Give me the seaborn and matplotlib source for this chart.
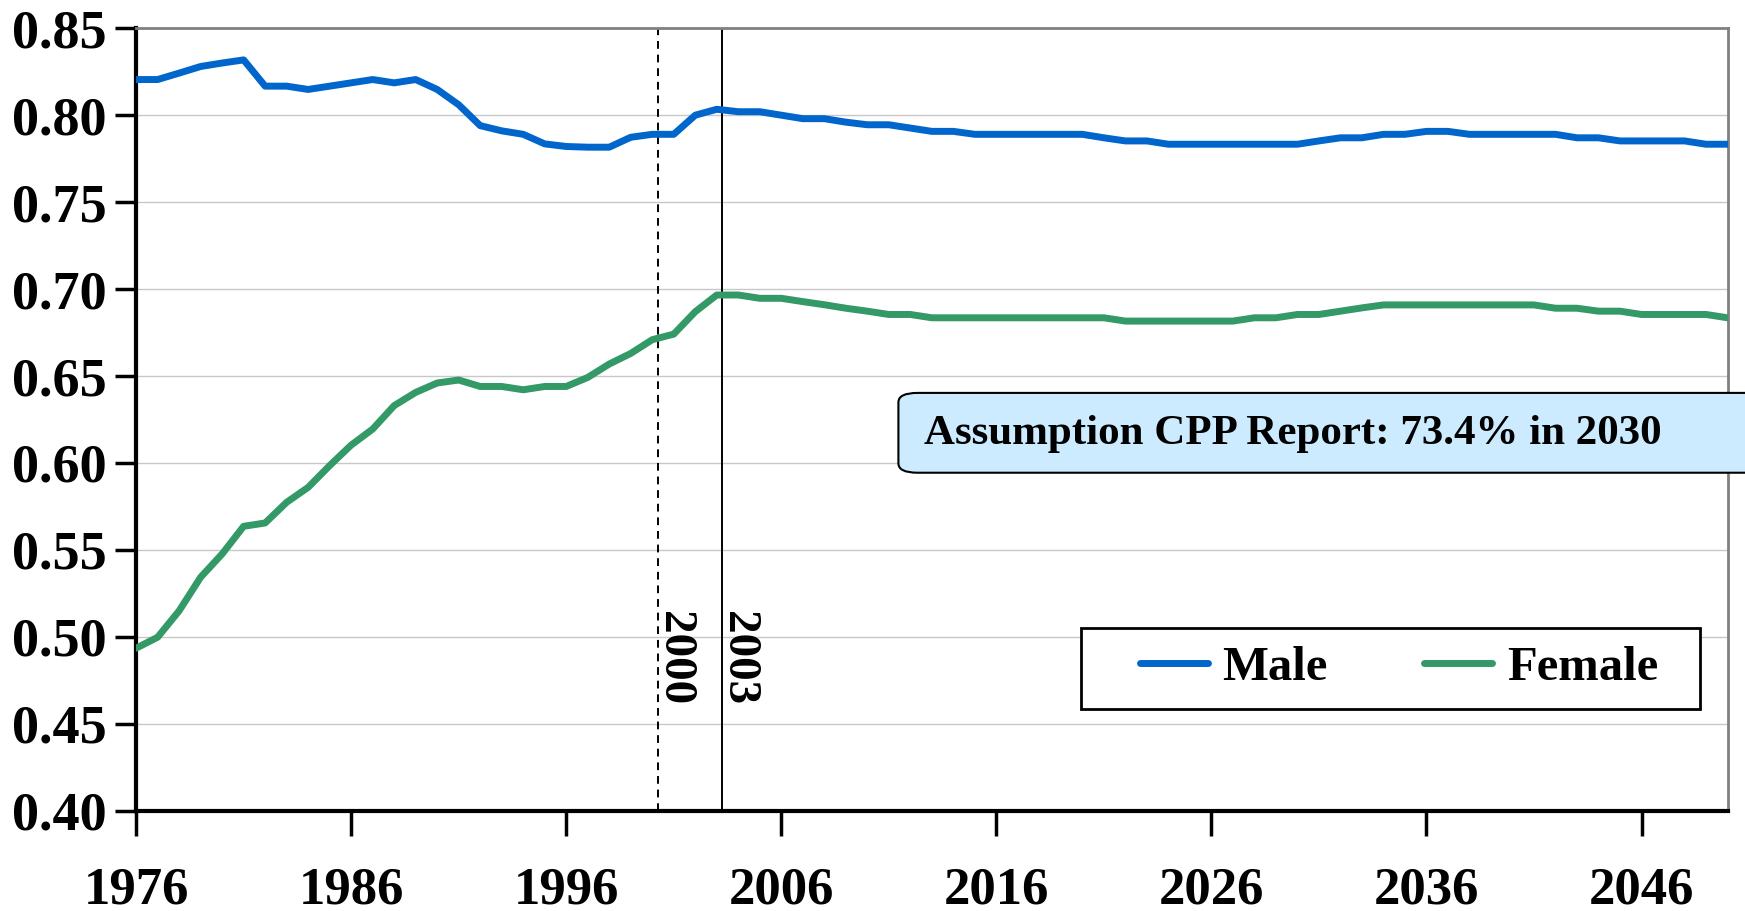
"""
Participation rate projection by sex, 1976-2050.
"""

import numpy as np
import pandas as pd
import matplotlib
matplotlib.use("Agg")
import matplotlib.pyplot as plt
from matplotlib.patches import FancyBboxPatch, Rectangle
from matplotlib.lines import Line2D
import seaborn as sns

years = list(range(1976, 2051))

male = [
    0.8205, 0.8205, 0.8242, 0.8280, 0.8300, 0.8318, 0.8167, 0.8167, 0.8148, 0.8167,  # 1976-85
    0.8186, 0.8205, 0.8186, 0.8205, 0.8148, 0.8060, 0.7940, 0.7910, 0.7890, 0.7835,  # 1986-95
    0.7820, 0.7816, 0.7816, 0.7873, 0.7890, 0.7890, 0.8000, 0.8034, 0.8020, 0.8020,  # 1996-2005
    0.8000, 0.7980, 0.7980, 0.7960, 0.7945, 0.7945, 0.7926, 0.7907, 0.7907, 0.7890,  # 2006-15
    0.7890, 0.7890, 0.7890, 0.7890, 0.7890, 0.7870, 0.7852, 0.7852, 0.7833, 0.7833,  # 2016-25
    0.7833, 0.7833, 0.7833, 0.7833, 0.7833, 0.7852, 0.7870, 0.7870, 0.7890, 0.7890,  # 2026-35
    0.7907, 0.7907, 0.7890, 0.7890, 0.7890, 0.7890, 0.7890, 0.7870, 0.7870, 0.7852,  # 2036-45
    0.7852, 0.7852, 0.7852, 0.7833, 0.7833,                                          # 2046-50
]

female = [
    0.4935, 0.4998, 0.5150, 0.5343, 0.5477, 0.5636, 0.5655, 0.5774, 0.5860, 0.5985,  # 1976-85
    0.6103, 0.6195, 0.6330, 0.6406, 0.6460, 0.6477, 0.6440, 0.6440, 0.6421, 0.6440,  # 1986-95
    0.6440, 0.6492, 0.6569, 0.6630, 0.6709, 0.6741, 0.6870, 0.6966, 0.6966, 0.6947,  # 1996-2005
    0.6947, 0.6928, 0.6910, 0.6890, 0.6873, 0.6854, 0.6854, 0.6835, 0.6835, 0.6835,  # 2006-15
    0.6835, 0.6835, 0.6835, 0.6835, 0.6835, 0.6835, 0.6816, 0.6816, 0.6816, 0.6816,  # 2016-25
    0.6816, 0.6816, 0.6835, 0.6835, 0.6854, 0.6854, 0.6873, 0.6892, 0.6909, 0.6909,  # 2026-35
    0.6909, 0.6909, 0.6909, 0.6909, 0.6909, 0.6909, 0.6890, 0.6890, 0.6873, 0.6873,  # 2036-45
    0.6854, 0.6854, 0.6854, 0.6854, 0.6835,                                          # 2046-50
]

series_names = ["Male", "Female"]
series_colors = ["#0066CC", "#339966"]
marker_years = [2000, 2003]
note_text = "Assumption CPP Report: 73.4% in 2030"

x_ticks = list(range(1976, 2050, 10))
y_ticks = np.arange(0.40, 0.851, 0.05)

df = pd.DataFrame({
    "year": years * 2,
    "rate": male + female,
    "sex": ["Male"] * len(years) + ["Female"] * len(years),
})

sns.set_style("white")
plt.rcParams["font.family"] = ["Liberation Serif", "DejaVu Serif"]
plt.rcParams["font.weight"] = "bold"
for key in ["text.color", "axes.labelcolor", "xtick.color", "ytick.color"]:
    plt.rcParams[key] = "black"

fig, ax = plt.subplots(figsize=(17.45, 9.11), dpi=100)
fig.subplots_adjust(left=0.078, right=0.990, top=0.969, bottom=0.110)

# light horizontal gridlines
for yv in y_ticks[1:-1]:
    ax.axhline(yv, color="#c8c8c8", lw=1.0, zorder=0)

sns.lineplot(data=df, x="year", y="rate", hue="sex", hue_order=series_names,
             palette=series_colors, lw=5, legend=False, ax=ax, zorder=3)

# reference years (lines sit a quarter year right of the data point)
ax.axvline(marker_years[0] + 0.25, color="black", lw=1.4, ls=(0, (4, 3)), zorder=2)
ax.axvline(marker_years[1] + 0.25, color="black", lw=1.4, zorder=2)
for yr in marker_years:
    ax.text(yr + 0.02, 0.515, str(yr), rotation=270, ha="left", va="top",
            fontsize=34, fontweight="bold", zorder=4)

ax.set_xlim(1976, 2050)
ax.set_ylim(0.40, 0.85)
ax.set_xticks(x_ticks)
ax.set_yticks(y_ticks)
ax.set_yticklabels([f"{v:.2f}" for v in y_ticks])
ax.set_xlabel("")
ax.set_ylabel("")

ax.tick_params(axis="y", direction="out", length=15, width=2.5, pad=6,
               labelsize=39, left=True)
ax.tick_params(axis="x", direction="out", length=18, width=2.5, pad=22,
               labelsize=38, bottom=True)
for lab in ax.get_xticklabels() + ax.get_yticklabels():
    lab.set_fontweight("bold")

for side in ["left", "bottom"]:
    ax.spines[side].set_color("black")
    ax.spines[side].set_linewidth(3)
for side in ["top", "right"]:
    ax.spines[side].set_color("#808080")
    ax.spines[side].set_linewidth(2)

# annotation box (runs past the right edge)
box = FancyBboxPatch((0.479, 0.432), 0.55, 0.102,
                     boxstyle="round,pad=0,rounding_size=0.012",
                     transform=ax.transAxes, facecolor="#CCEBFF",
                     edgecolor="black", lw=1.5, clip_on=False, zorder=5)
ax.add_patch(box)
ax.text(0.495, 0.481, note_text, transform=ax.transAxes, ha="left",
        va="center", fontsize=31, fontweight="bold", zorder=6)

# legend frame drawn separately so the entries can sit inset
ax.add_patch(Rectangle((0.594, 0.130), 0.389, 0.104, transform=ax.transAxes,
                       facecolor="white", edgecolor="black", lw=2, zorder=5))
handles = [Line2D([0], [0], color=c, lw=5) for c in series_colors]
leg = ax.legend(handles, series_names, ncol=2, loc="center",
                bbox_to_anchor=(0.620, 0.130, 0.347, 0.104), mode="expand",
                borderaxespad=0, frameon=False,
                handlelength=1.4, handletextpad=0.3, columnspacing=2.0,
                borderpad=0.35, prop={"size": 35, "weight": "bold"})
leg.set_zorder(6)

fig.savefig("out.png", dpi=100)
